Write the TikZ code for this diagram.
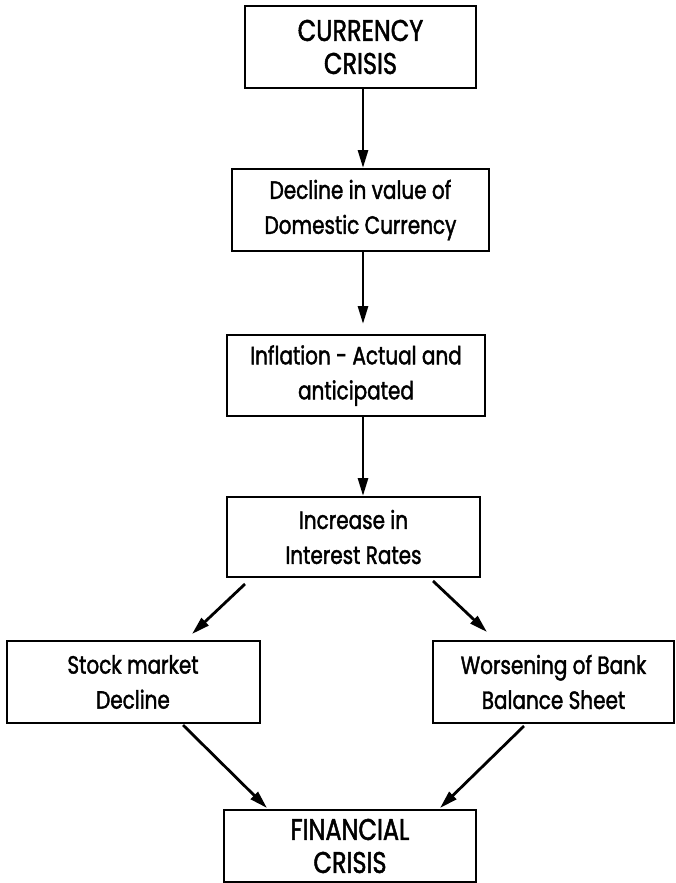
\documentclass[tikz,border=0pt]{standalone}
\usepackage{fontspec}
\setmainfont{Poppins}[FakeStretch=0.8,FakeBold=1.6]
\usetikzlibrary{arrows.meta}
\begin{document}
\begin{tikzpicture}[x=1pt,y=-1pt,
  box/.style={draw, line width=2pt, align=center, inner sep=0pt,
    font=\fontsize{25}{35}\selectfont},
  capbox/.style={box, font=\fontsize{30}{33}\selectfont},
  arr/.style={line width=2.8pt, -{Triangle[length=18pt,width=10pt]}}]
\useasboundingbox[fill=white] (0,0) rectangle (675,883);

\node[capbox, minimum width=231pt, minimum height=82pt] (b1) at (360.5,47) {CURRENCY\\CRISIS};
\node[box, minimum width=257pt, minimum height=82pt] (b2) at (360.5,210) {Decline in value of\\Domestic Currency};
\node[box, minimum width=258pt, minimum height=81pt] (b3) at (356,375.5) {Inflation - Actual and\\anticipated};
\node[box, minimum width=253pt, minimum height=80pt] (b4) at (353.5,537) {Increase in\\Interest Rates};
\node[box, minimum width=253pt, minimum height=82pt] (b5) at (133,682) {Stock market\\Decline};
\node[box, minimum width=241pt, minimum height=82pt] (b6) at (553.5,682) {Worsening of Bank\\Balance Sheet};
\node[capbox, minimum width=252pt, minimum height=72pt] (b7) at (350,846) {FINANCIAL\\CRISIS};

\draw[arr] ([xshift=2.5pt]b1.south) -- ([xshift=2.5pt]b2.north);
\draw[arr, shorten >=10pt] ([xshift=2.5pt]b2.south) -- ([xshift=7pt]b3.north);
\draw[arr] ([xshift=7pt]b3.south) -- ([xshift=9.5pt]b4.north);
\draw[arr] ([shift={(-108.5,6)}]b4.south) -- ([shift={(59,-6)}]b5.north);
\draw[arr] ([shift={(79.5,3)}]b4.south) -- ([shift={(-66.5,-8)}]b6.north);
\draw[arr] ([shift={(50,1)}]b5.south) -- ([shift={(-83,-1)}]b7.north);
\draw[arr] ([shift={(-29.5,2)}]b6.south) -- ([shift={(90,-1)}]b7.north);
\end{tikzpicture}
\end{document}
